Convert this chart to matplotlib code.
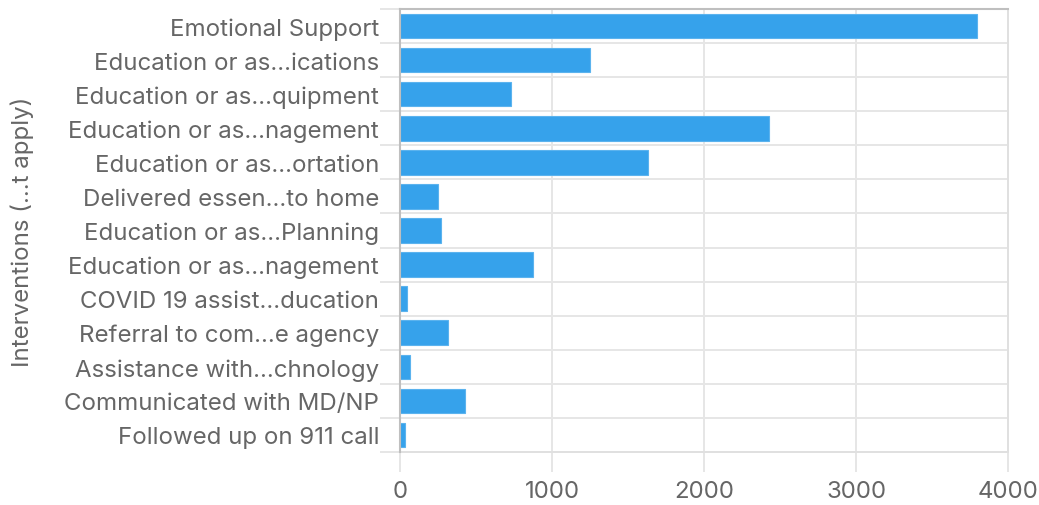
import matplotlib
matplotlib.use("Agg")
import matplotlib.pyplot as plt
import numpy as np

categories = [
    "Emotional Support",
    "Education or as...ications",
    "Education or as...quipment",
    "Education or as...nagement",
    "Education or as...ortation",
    "Delivered essen...to home",
    "Education or as...Planning",
    "Education or as...nagement",
    "COVID 19 assist...ducation",
    "Referral to com...e agency",
    "Assistance with...chnology",
    "Communicated with MD/NP",
    "Followed up on 911 call",
]
values = [3796, 1251, 731, 2428, 1629, 247, 272, 873, 44, 318, 63, 424, 33]
x_ticks = [0, 1000, 2000, 3000, 4000]
y_title = "Interventions (...t apply)"

plt.rcParams['font.family'] = ['Inter', 'DejaVu Sans']

W, H = 1039, 506
fig = plt.figure(figsize=(W / 100, H / 100), dpi=100)
left, right, top, bottom = 400, 1008.5, 10, 453
ax = fig.add_axes([left / W, 1 - bottom / H, (right - left) / W, (bottom - top) / H])

n = len(categories)
ypos = np.arange(n)
ax.barh(ypos, values, height=0.72, color="#36A2EB", edgecolor="#5bb3ee", linewidth=0.8, zorder=3)

ax.set_xlim(0, 4000)
ax.set_ylim(n - 0.5, -0.5)

lab_color = "#666666"
fs = 17.3

ax.set_xticks(x_ticks)
ax.set_xticklabels([str(t) for t in x_ticks])
ax.set_yticks(ypos)
ax.set_yticklabels(categories)
ax.set_yticks(np.arange(-0.5, n + 0.5, 1.0), minor=True)

ax.tick_params(axis="y", which="major", length=0, pad=15, labelsize=fs, labelcolor=lab_color)
ax.tick_params(axis="y", which="minor", length=14.4, width=1.4, color="#e6e6e6", direction="out")
ax.tick_params(axis="x", which="major", length=14.4, width=1.4, color="#e6e6e6", pad=6,
               labelsize=fs, labelcolor=lab_color)

ax.grid(True, axis="x", which="major", color="#e6e6e6", linewidth=1.4, zorder=0)
ax.grid(True, axis="y", which="minor", color="#e6e6e6", linewidth=1.4, zorder=0)
ax.grid(False, axis="y", which="major")

for s in ["top", "left"]:
    ax.spines[s].set_color("#bfbfbf")
    ax.spines[s].set_linewidth(1.5)
for s in ["bottom", "right"]:
    ax.spines[s].set_color("#e0e0e0")
    ax.spines[s].set_linewidth(1.4)
ax.spines["left"].set_zorder(4)

fig.text(22 / W, 1 - ((top + bottom) / 2) / H, y_title, rotation=90, ha="center", va="center",
         fontsize=fs, color=lab_color)

fig.savefig("out.png", dpi=100, facecolor="white")
